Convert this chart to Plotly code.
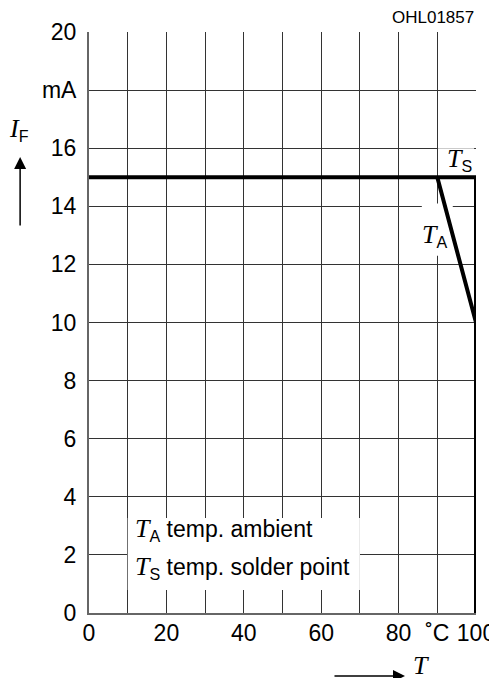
import plotly.graph_objects as go

# Data
temps_ts = [0, 100, 100]
current_ts = [15, 15, 0]
temps_ta = [90, 100, 100]
current_ta = [15, 10, 0]

y_tickvals = [0, 2, 4, 6, 8, 10, 12, 14, 16, 18, 20]
y_ticktext = ["0", "2", "4", "6", "8", "10", "12", "14", "16", "mA", "20"]
x_tickvals = [0, 20, 40, 60, 80, 90, 100]
x_ticktext = ["0", "20", "40", "60", "80", "˚C", "100"]

SANS = "Liberation Sans, Arial, Helvetica, sans-serif"
SERIF_T = '<span style="font-family:Liberation Serif;font-size:26px"><i>T</i></span>'
SERIF_I = '<span style="font-family:Liberation Serif;font-size:26px"><i>I</i></span>'

fig = go.Figure()
fig.add_trace(go.Scatter(x=temps_ts, y=current_ts, mode="lines",
                         line=dict(color="black", width=4), showlegend=False))
fig.add_trace(go.Scatter(x=temps_ta, y=current_ta, mode="lines",
                         line=dict(color="black", width=4), showlegend=False))

# white label backgrounds covering the grid
for x0, x1, y0, y1 in [(10, 70, 0.79, 3.27), (90.2, 99.5, 15.1, 16.0), (86, 94, 12.3, 14.1)]:
    fig.add_shape(type="rect", x0=x0, x1=x1, y0=y0, y1=y1, xref="x", yref="y",
                  fillcolor="white", line=dict(width=0), layer="between")

ann_font = dict(family=SANS, size=23, color="black")
fig.add_annotation(x=11.4, y=2.86, xref="x", yref="y", xanchor="left", yanchor="middle",
                   text=SERIF_T + "<sub>A</sub> temp. ambient", showarrow=False, font=ann_font)
fig.add_annotation(x=11.4, y=1.55, xref="x", yref="y", xanchor="left", yanchor="middle",
                   text=SERIF_T + "<sub>S</sub> temp. solder point", showarrow=False, font=ann_font)
fig.add_annotation(x=95.8, y=15.6, xref="x", yref="y", xanchor="center", yanchor="middle",
                   text=SERIF_T + "<sub>S</sub>", showarrow=False, font=ann_font)
fig.add_annotation(x=89.4, y=13.0, xref="x", yref="y", xanchor="center", yanchor="middle",
                   text=SERIF_T + "<sub>A</sub>", showarrow=False, font=ann_font)

# OHL code
fig.add_annotation(x=1.0, y=1.025, xref="paper", yref="paper", xanchor="right", yanchor="middle",
                   text="OHL01857", showarrow=False, font=dict(family=SANS, size=17, color="black"))

# Y axis label and arrow
fig.add_annotation(x=-0.18, y=0.832, xref="paper", yref="paper", xanchor="center", yanchor="middle",
                   text=SERIF_I + "<sub>F</sub>", showarrow=False, font=ann_font)
fig.add_annotation(x=-0.178, y=0.785, xref="paper", yref="paper", text="", showarrow=True,
                   ax=0, ay=70, arrowhead=2, arrowsize=1.6, arrowwidth=1.5, arrowcolor="black")

# X axis label and arrow
fig.add_annotation(x=0.8165, y=-0.1084, xref="paper", yref="paper", text="", showarrow=True,
                   ax=-72, ay=0, arrowhead=2, arrowsize=1.6, arrowwidth=1.5, arrowcolor="black")
fig.add_annotation(x=0.858, y=-0.091, xref="paper", yref="paper", xanchor="center", yanchor="middle",
                   text=SERIF_T, showarrow=False, font=ann_font)

fig.update_xaxes(range=[0, 100], tickvals=x_tickvals, ticktext=x_ticktext,
                 showgrid=True, gridcolor="#333333", gridwidth=1,
                 showline=True, linecolor="#666666", linewidth=2, automargin=False,
                 zeroline=False, ticks="", ticklabelstandoff=-2,
                 tickfont=dict(family=SANS, size=23, color="black"))
fig.update_xaxes(minor=dict(tickvals=[10, 30, 50, 70, 90], showgrid=True,
                            gridcolor="#333333", gridwidth=1))
fig.update_yaxes(range=[0, 20], tickvals=y_tickvals, ticktext=y_ticktext,
                 showgrid=True, gridcolor="#333333", gridwidth=1,
                 showline=True, linecolor="#666666", linewidth=2, automargin=False,
                 zeroline=False, ticks="", ticklabelstandoff=6,
                 tickfont=dict(family=SANS, size=23, color="black"))

fig.update_layout(template="none", width=489, height=670, plot_bgcolor="white", paper_bgcolor="white",
                  margin=dict(l=81, r=21, t=24, b=65, autoexpand=False), showlegend=False)

fig.write_html("out.html")
